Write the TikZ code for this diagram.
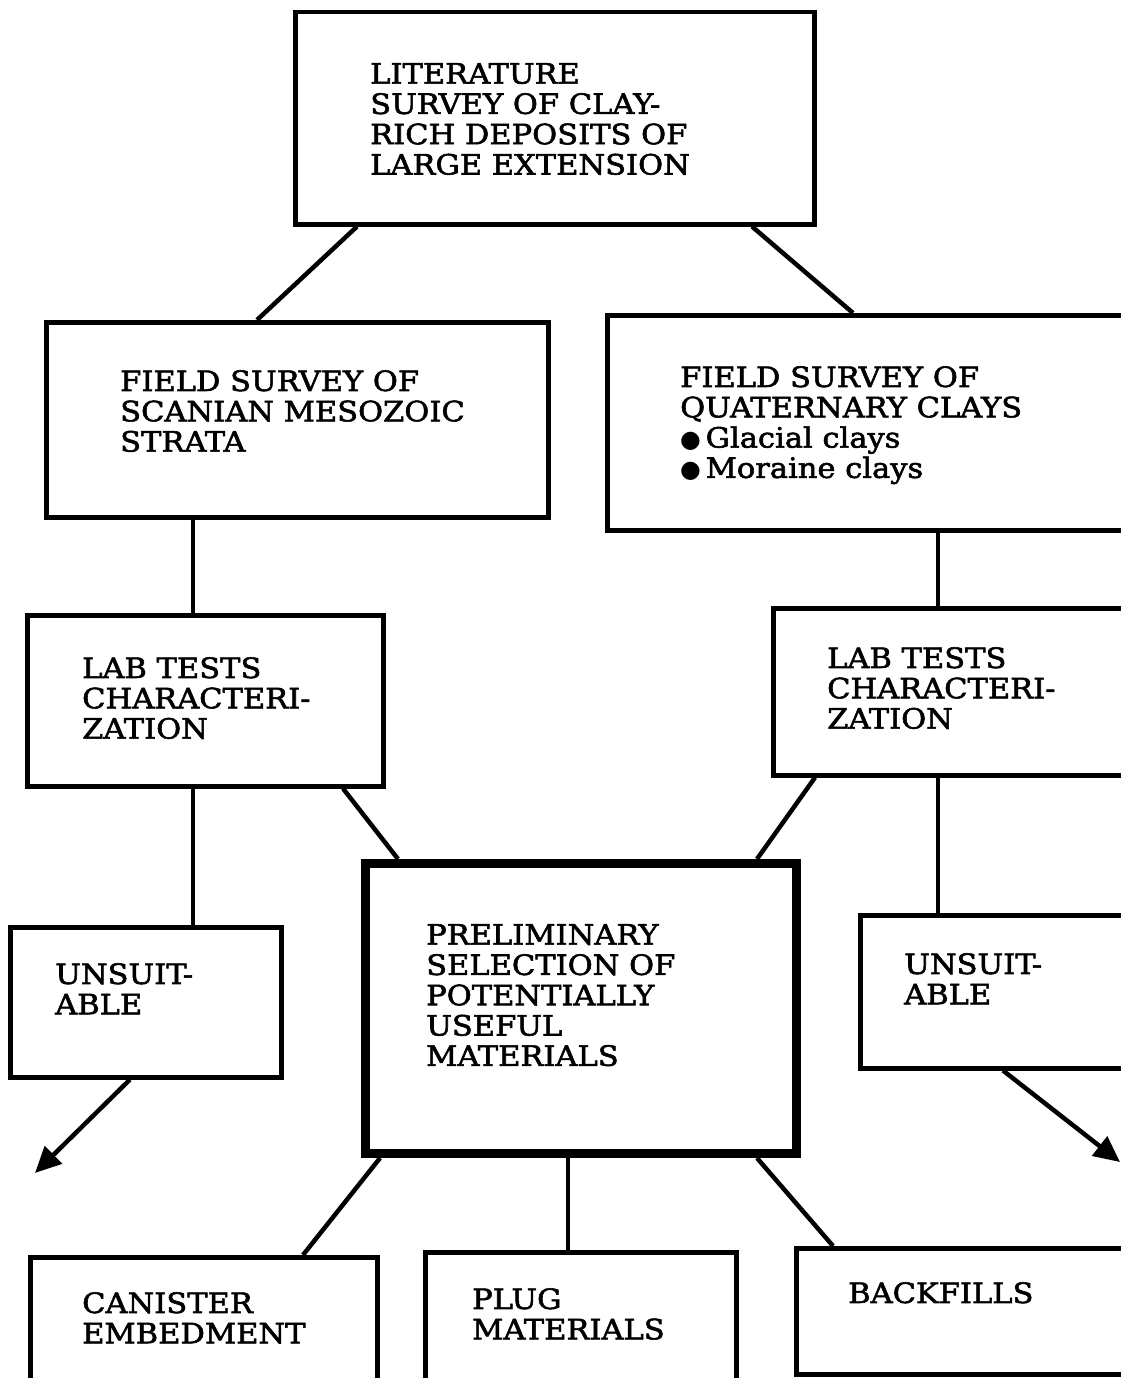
\documentclass[tikz,border=0pt]{standalone}
\usepackage{fontspec}
\setmainfont{DejaVu Serif}[FakeBold=2,FakeStretch=1.09]
\newfontfamily\symfnt{DejaVu Sans}[Scale=0.85]
\usetikzlibrary{arrows.meta,calc}
\begin{document}
\begin{tikzpicture}[x=1pt,y=-1pt,
  box/.style={draw=black,line width=4.5pt,inner sep=0pt,anchor=north west,minimum width=#1},
  bigbox/.style={draw=black,line width=9pt,inner sep=0pt,anchor=north west},
  txt/.style={anchor=north west,inner sep=0pt,align=left,font=\fontsize{28}{30.3}\selectfont},
  conn/.style={line width=4.5pt},
  arr/.style={line width=4.5pt,-{Triangle[length=26pt,width=24pt]}}]
\clip (0,0) rectangle (1121,1378);
\fill[white] (0,0) rectangle (1121,1378);
% boxes
\node[box=519pt,minimum height=212pt] (top) at (293,10) {};
\node[box=502pt,minimum height=195pt] (fl) at (44,320) {};
\node[box=545pt,minimum height=215pt] (fr) at (605,313) {};
\node[box=356pt,minimum height=171pt] (ll) at (25,613) {};
\node[box=379pt,minimum height=167pt] (lr) at (771,606) {};
\node[box=271pt,minimum height=150pt] (ul) at (8,925) {};
\node[bigbox,minimum width=431pt,minimum height=290pt] (ctr) at (361,859) {};
\node[box=292pt,minimum height=153pt] (ur) at (858,913) {};
\node[box=347pt,minimum height=130pt] (can) at (28,1255) {};
\node[box=311pt,minimum height=134pt] (plug) at (423,1250) {};
\node[box=356pt,minimum height=126pt] (back) at (794,1246) {};
% texts
\node[txt] (topt) at (370,63) {LITERATURE\\SURVEY OF CLAY-\\RICH DEPOSITS OF\\LARGE EXTENSION};
\node[txt] (flt) at (120,370) {FIELD SURVEY OF\\SCANIAN MESOZOIC\\STRATA};
\node[txt] (frt) at (680,366) {FIELD SURVEY OF\\QUATERNARY CLAYS\\{\symfnt ●}\,Glacial clays\\{\symfnt ●}\,Moraine clays};
\node[txt] (llt) at (82,657) {LAB TESTS\\CHARACTERI-\\ZATION};
\node[txt] (lrt) at (827,647) {LAB TESTS\\CHARACTERI-\\ZATION};
\node[txt] (ult) at (55,963) {UNSUIT-\\ABLE};
\node[txt] (ctrt) at (426,924) {PRELIMINARY\\SELECTION OF\\POTENTIALLY\\USEFUL\\MATERIALS};
\node[txt] (urt) at (904,953) {UNSUIT-\\ABLE};
\node[txt] (cant) at (82,1292) {CANISTER\\EMBEDMENT};
\node[txt] (plugt) at (472,1288) {PLUG\\MATERIALS};
\node[txt] (backt) at (848,1282) {BACKFILLS};
% free ends
\coordinate (la) at (35,1173);
\coordinate (ra) at (1120,1162);
% connectors
\draw[conn] ([xshift=64pt]top.south west) -- ([xshift=213pt]fl.north west);
\draw[conn] ([xshift=459pt]top.south west) -- ([xshift=248pt]fr.north west);
\draw[conn] ([xshift=149pt]fl.south west) -- ([xshift=168pt]ll.north west);
\draw[conn] ([xshift=333pt]fr.south west) -- ([xshift=167pt]lr.north west);
\draw[conn] ([xshift=168pt]ll.south west) -- ([xshift=185pt]ul.north west);
\draw[conn] ([xshift=318pt]ll.south west) -- ([xshift=37pt]ctr.north west);
\draw[conn] ([xshift=44pt]lr.south west) -- ([xshift=396pt]ctr.north west);
\draw[conn] ([xshift=167pt]lr.south west) -- ([xshift=80pt]ur.north west);
\draw[arr] ([xshift=122pt]ul.south west) -- (la);
\draw[arr] ([xshift=145pt]ur.south west) -- (ra);
\draw[conn] ([xshift=19pt]ctr.south west) -- ([xshift=275pt]can.north west);
\draw[conn] ([xshift=207pt]ctr.south west) -- ([xshift=145pt]plug.north west);
\draw[conn] ([xshift=396pt]ctr.south west) -- ([xshift=39pt]back.north west);
\end{tikzpicture}
\end{document}
